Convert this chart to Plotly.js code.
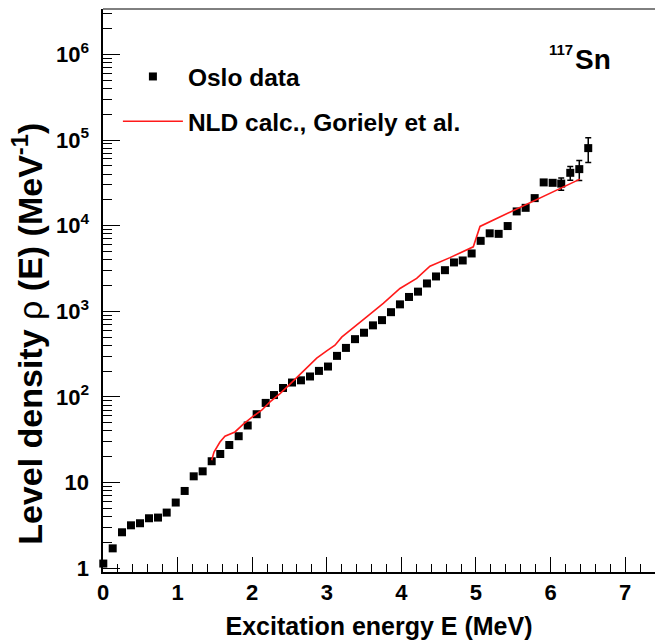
<!DOCTYPE html>
<html>
<head>
<meta charset="utf-8">
<script src="https://cdn.plot.ly/plotly-3.0.1.min.js"></script>
<style>html,body{margin:0;padding:0;background:#fff;}</style>
</head>
<body>
<div id="chart" style="width:655px;height:640px;"></div>
<script>
// Oslo data (excitation energy in MeV, level density in 1/MeV)
const energy = [0.004, 0.130, 0.255, 0.375, 0.496, 0.617, 0.737, 0.854, 0.975, 1.095,
  1.216, 1.336, 1.457, 1.572, 1.693, 1.819, 1.940, 2.060, 2.181, 2.292,
  2.413, 2.534, 2.654, 2.775, 2.895, 3.016, 3.137, 3.257, 3.378, 3.499,
  3.619, 3.740, 3.861, 3.981, 4.102, 4.223, 4.343, 4.464, 4.584, 4.705,
  4.822, 4.942, 5.063, 5.184, 5.304, 5.425, 5.546, 5.666, 5.787, 5.908,
  6.028, 6.143, 6.264, 6.385, 6.505];
const density = [1.13, 1.70, 2.62, 3.16, 3.34, 3.82, 3.89, 4.45, 5.83, 7.96,
  11.8, 13.5, 17.7, 21.5, 27.4, 34.7, 46.3, 62.7, 85.0, 105,
  127, 147, 156, 173, 201, 226, 301, 373, 472, 561,
  684, 787, 975, 1203, 1468, 1694, 2111, 2548, 3017, 3715,
  3917, 4730, 6640, 8127, 8017, 9886, 14650, 16140, 20950, 31960,
  31620, 30960, 41380, 45700, 80400];
const densityErr = [0, 0, 0, 0, 0, 0, 0, 0, 0, 0,
  0, 0, 0, 0, 0, 0, 0, 0, 0, 0,
  0, 0, 0, 0, 0, 0, 0, 0, 0, 0,
  0, 0, 0, 0, 0, 0, 0, 0, 0, 0,
  0, 0, 0, 0, 0, 0, 0, 0, 0, 0,
  0, 5000, 7600, 12000, 25700];

// NLD calculation, Goriely et al.
const calcEnergy = [1.457, 1.488, 1.568, 1.635, 1.769, 1.881, 2.015, 2.127, 2.239, 2.373,
  2.507, 2.641, 2.752, 2.865, 2.999, 3.110, 3.200, 3.311, 3.535, 3.757,
  3.981, 4.205, 4.383, 4.651, 4.964, 5.054, 6.394];
const calcDensity = [18.2, 22.7, 29.7, 34.7, 38.9, 47.9, 59.4, 69.8, 87.3, 109,
  141, 184, 228, 283, 344, 401, 498, 601, 859, 1233,
  1845, 2415, 3363, 4227, 5650, 9780, 34940];

const xTickVals = [0, 1, 2, 3, 4, 5, 6, 7];
const yTickVals = [1, 10, 100, 1000, 10000, 100000, 1000000];
const yTickText = ['1', '10', '10<sup>2</sup>', '10<sup>3</sup>', '10<sup>4</sup>', '10<sup>5</sup>', '10<sup>6</sup>'];

const FONT = 'Liberation Sans, Arial, Helvetica, sans-serif';

const traces = [
  {
    x: energy, y: density, type: 'scatter', mode: 'markers',
    name: 'Oslo data', legendgroup: 'a',
    marker: {symbol: 'square', size: 8, color: '#000'},
    error_y: {type: 'data', array: densityErr, visible: true, color: '#000', thickness: 1.5, width: 3},
    cliponaxis: false
  },
  {
    x: calcEnergy, y: calcDensity, type: 'scatter', mode: 'lines',
    name: 'NLD calc., Goriely et al.', legendgroup: 'b',
    line: {color: '#ff1a1a', width: 1.6}
  }
];

const layout = {
  width: 655, height: 640,
  margin: {l: 103, r: 0, t: 9, b: 68},
  paper_bgcolor: '#fff', plot_bgcolor: '#fff',
  font: {family: FONT, color: '#000'},
  showlegend: true,
  legend: {
    x: 0.027, y: 0.92, xanchor: 'left', yanchor: 'top',
    bgcolor: 'rgba(0,0,0,0)', borderwidth: 0,
    font: {family: FONT, size: 24.5, weight: 'bold', color: '#000'},
    itemwidth: 60, tracegroupgap: 10, traceorder: 'grouped'
  },
  xaxis: {
    range: [0, 7.4], showgrid: false, zeroline: false,
    showline: true, linecolor: '#000', linewidth: 2,
    ticks: 'inside', ticklen: 15, tickwidth: 1, tickcolor: '#000',
    tickvals: xTickVals,
    tickfont: {family: FONT, size: 22, weight: 'bold', color: '#000'},
    ticklabelstandoff: 0,
    minor: {ticks: 'inside', ticklen: 8, tickwidth: 1, tickcolor: '#000', dtick: 0.2, showgrid: false},
    title: {text: 'Excitation energy E (MeV)', font: {family: FONT, size: 25, weight: 'bold', color: '#000'}, standoff: 14}
  },
  yaxis: {
    type: 'log', range: [-0.0456, 6.530], showgrid: false, zeroline: false,
    showline: true, linecolor: '#000', linewidth: 2.5,
    ticks: 'inside', ticklen: 17, tickwidth: 1, tickcolor: '#000',
    tickvals: yTickVals, ticktext: yTickText,
    tickfont: {family: FONT, size: 22, weight: 'bold', color: '#000'},
    ticklabelstandoff: 7,
    minor: {ticks: 'inside', ticklen: 9, tickwidth: 1, tickcolor: '#000', dtick: 'D1', showgrid: false},
    title: {text: ''}
  },
  shapes: [
    {type: 'line', xref: 'paper', yref: 'paper', x0: 0, x1: 1, y0: 1, y1: 1, line: {color: '#000', width: 1}}
  ],
  annotations: [
    {
      xref: 'paper', yref: 'paper', x: -0.138, y: 0.4227, xanchor: 'center', yanchor: 'middle',
      textangle: -90, showarrow: false,
      text: 'Level density <span style="font-weight:normal">ρ</span>\u00A0(E)\u00A0(MeV<sup>-1</sup>)',
      font: {family: FONT, size: 34, weight: 'bold', color: '#000'}
    },
    {
      xref: 'paper', yref: 'paper', x: (613 - 103) / 552, y: (572 - 59) / 563, xanchor: 'right', yanchor: 'middle',
      showarrow: false, text: 'Sn', font: {family: FONT, size: 28, weight: 'bold', color: '#000'}
    },
    {
      xref: 'paper', yref: 'paper', x: (575 - 103) / 552, y: (572 - 50) / 563, xanchor: 'right', yanchor: 'middle',
      showarrow: false, text: '117', font: {family: FONT, size: 15, weight: 'bold', color: '#000'}
    }
  ]
};

Plotly.newPlot('chart', traces, layout, {displayModeBar: false, staticPlot: true});
</script>
</body>
</html>
